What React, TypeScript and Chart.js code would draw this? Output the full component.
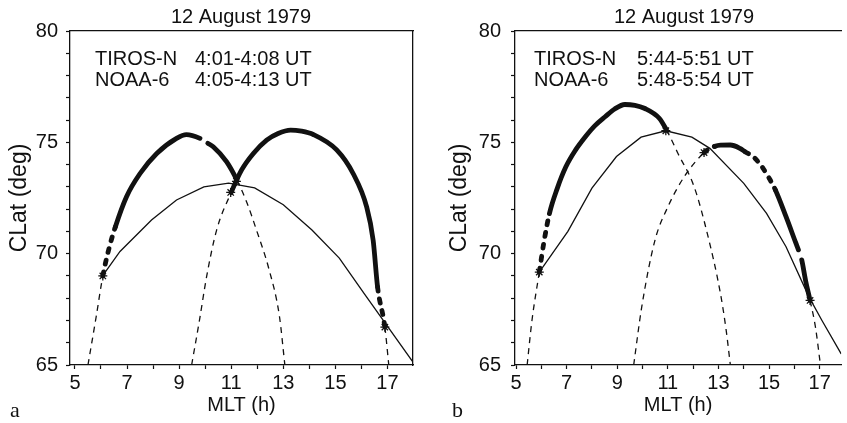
import { useEffect, useRef } from 'react';
import { Chart, registerables } from 'chart.js';

Chart.register(...registerables);

const FONT = '"Liberation Sans", Arial, Helvetica, sans-serif';
const SERIF = '"Liberation Serif", "Times New Roman", serif';
const INK = '#111111';

// ---- texts ----
const titleText = '12 August 1979';
const xTitle = 'MLT (h)';
const yTitle = 'CLat (deg)';
const satNames = ['TIROS-N', 'NOAA-6'];
const timesA = ['4:01-4:08 UT', '4:05-4:13 UT'];
const timesB = ['5:44-5:51 UT', '5:48-5:54 UT'];
const xTickLabels = [5, 7, 9, 11, 13, 15, 17];
const yTickLabels = [65, 70, 75, 80];

// segment styles: d = thin dashed, D = thick dashed, T = thick solid, g = gap
// ---- panel a ----
const boundaryAX = [6.06, 6.73, 7.94, 8.9, 9.95, 10.9, 11.9, 13.0, 14.1, 15.15, 16.1, 16.9, 18.0];
const boundaryAY = [69.0, 70.1, 71.51, 72.41, 73.0, 73.17, 72.95, 72.2, 71.06, 69.8, 68.22, 66.9, 65.1];

const trackA1X = [5.5, 5.82, 6.07, 6.3, 6.55, 6.98, 7.5, 8.14, 8.9, 9.28, 9.8, 10.1, 10.31, 10.82, 11.22, 11.6, 11.97, 12.45, 12.85, 13.06];
const trackA1Y = [65.0, 67.2, 69.0, 70.2, 71.2, 72.56, 73.6, 74.5, 75.18, 75.35, 75.18, 74.96, 74.8, 74.13, 73.3, 72.3, 71.06, 69.3, 67.2, 65.0];
const trackA1Seg = ['d', 'd', 'D', 'D', 'T', 'T', 'T', 'T', 'T', 'T', 'g', 'T', 'T', 'T', 'd', 'd', 'd', 'd', 'd'];

const trackA2X = [9.48, 9.78, 10.06, 10.44, 11.0, 11.4, 11.85, 12.36, 12.8, 13.28, 13.7, 14.15, 15.05, 15.68, 16.2, 16.45, 16.62, 16.9, 17.05];
const trackA2Y = [65.0, 67.0, 69.0, 71.06, 72.75, 73.76, 74.5, 75.1, 75.4, 75.55, 75.5, 75.35, 74.66, 73.6, 72.1, 70.6, 68.5, 66.7, 65.0];
const trackA2Seg = ['d', 'd', 'd', 'd', 'T', 'T', 'T', 'T', 'T', 'T', 'T', 'T', 'T', 'T', 'T', 'T', 'D', 'd'];

const starsAX = [6.07, 10.98, 11.2, 16.9];
const starsAY = [69.0, 72.75, 73.25, 66.7];

// ---- panel b ----
const boundaryBX = [5.92, 7.05, 8.0, 8.97, 9.94, 10.92, 11.95, 12.66, 14.0, 14.9, 15.67, 16.57, 17.09, 17.85];
const boundaryBY = [69.17, 71.0, 72.94, 74.36, 75.23, 75.52, 75.23, 74.73, 73.16, 71.81, 70.31, 68.07, 67.0, 65.5];

const trackB1X = [5.44, 5.63, 5.92, 6.1, 6.32, 6.62, 6.97, 7.35, 7.74, 8.12, 8.52, 8.9, 9.3, 9.7, 10.07, 10.66, 10.95, 11.4, 12.04, 12.56, 13.08, 13.3, 13.47];
const trackB1Y = [65.0, 67.0, 69.17, 70.5, 71.8, 72.9, 73.9, 74.65, 75.25, 75.75, 76.15, 76.5, 76.7, 76.66, 76.53, 76.08, 75.55, 74.5, 73.0, 70.9, 68.2, 66.6, 65.0];
const trackB1Seg = ['d', 'd', 'D', 'D', 'T', 'T', 'T', 'T', 'T', 'T', 'T', 'T', 'T', 'T', 'T', 'T', 'd', 'd', 'd', 'd', 'd', 'd'];

const trackB2X = [9.65, 9.97, 10.49, 11.0, 11.65, 12.43, 12.66, 12.85, 13.08, 13.47, 13.85, 14.05, 14.37, 14.67, 14.89, 15.25, 15.67, 16.06, 16.16, 16.29, 16.45, 16.62, 16.83, 17.03];
const trackB2Y = [65.0, 67.62, 70.6, 72.1, 73.46, 74.54, 74.73, 74.82, 74.87, 74.88, 74.73, 74.58, 74.36, 73.98, 73.6, 72.86, 71.66, 70.47, 70.17, 69.72, 68.75, 67.9, 66.72, 65.0];
const trackB2Seg = ['d', 'd', 'd', 'd', 'd', 'D', 'D', 'T', 'T', 'T', 'T', 'D', 'D', 'D', 'D', 'T', 'T', 'T', 'g', 'T', 'T', 'd', 'd'];

const starsBX = [5.92, 10.92, 12.43, 16.62];
const starsBY = [69.17, 75.52, 74.54, 67.9];

const SEG_WIDTH: Record<string, number> = { d: 1.3, D: 4.8, T: 4.8, g: 1 };
const SEG_DASH: Record<string, number[]> = { d: [6, 5], D: [4, 8], T: [], g: [] };

const pts = (xs: number[], ys: number[]) => xs.map((x, i) => ({ x, y: ys[i] }));

function trackDataset(xs: number[], ys: number[], segs: string[]) {
  return {
    data: pts(xs, ys),
    borderColor: INK,
    borderWidth: 1.3,
    pointRadius: 0,
    cubicInterpolationMode: 'monotone',
    segment: {
      borderWidth: (c: any) => SEG_WIDTH[segs[c.p0DataIndex]],
      borderDash: (c: any) => SEG_DASH[segs[c.p0DataIndex]],
      borderColor: (c: any) => (segs[c.p0DataIndex] === 'g' ? 'rgba(0,0,0,0)' : INK),
      borderCapStyle: (c: any) => (segs[c.p0DataIndex] === 'd' ? 'butt' : 'round'),
    },
  };
}

function boundaryDataset(xs: number[], ys: number[]) {
  return {
    data: pts(xs, ys),
    borderColor: INK,
    borderWidth: 1.3,
    pointRadius: 0,
    tension: 0,
  };
}

function starDataset(xs: number[], ys: number[]) {
  return {
    data: pts(xs, ys),
    showLine: false,
    pointStyle: 'star',
    pointRadius: 4.5,
    pointBorderWidth: 1.3,
    pointBorderColor: INK,
    pointBackgroundColor: INK,
  };
}

const panelTextPlugin = {
  id: 'panelText',
  afterDraw(chart: any, _args: any, o: any) {
    const ctx = chart.ctx;
    ctx.save();
    ctx.fillStyle = INK;
    ctx.font = `20px ${FONT}`;
    ctx.textBaseline = 'alphabetic';
    ctx.textAlign = 'center';
    ctx.fillText(titleText, o.titleX, 23);
    ctx.textAlign = 'left';
    satNames.forEach((n, i) => {
      ctx.fillText(n, o.nameX, 65 + i * 21);
      ctx.fillText(o.times[i], o.timeX, 65 + i * 21);
    });
    ctx.font = `22px ${SERIF}`;
    ctx.fillText(o.letter, o.letterX, 417);
    ctx.restore();
  },
};

interface PanelSpec {
  xMin: number;
  xMax: number;
  leftW: number;
  rightW: number;
  yTitlePad: number;
  yTickPad: number;
  datasets: any[];
  text: any;
}

function makeConfig(p: PanelSpec): any {
  const tickFont = { family: FONT, size: 20, lineHeight: 1.2 };
  const scales: any = {
    x: {
      type: 'linear',
      position: 'bottom',
      min: p.xMin,
      max: p.xMax,
      afterFit: (s: any) => { s.height = 58; },
      border: { display: true, color: INK, width: 1.3 },
      grid: { display: true, drawOnChartArea: false, drawTicks: true, tickLength: 4, tickColor: INK, tickWidth: 1.2 },
      ticks: {
        stepSize: 1,
        autoSkip: false,
        maxRotation: 0,
        minRotation: 0,
        includeBounds: false,
        padding: 2,
        color: INK,
        font: tickFont,
        callback: (v: number) => (xTickLabels.includes(v) ? String(v) : ''),
      },
      title: { display: true, text: xTitle, color: INK, font: { family: FONT, size: 20, lineHeight: 1.2 }, padding: { top: 0, bottom: 6 } },
    },
    y: {
      type: 'linear',
      position: 'left',
      min: 65,
      max: 80,
      afterFit: (s: any) => { s.width = p.leftW; },
      border: { display: true, color: INK, width: 1.3 },
      grid: { display: true, drawOnChartArea: false, drawTicks: true, tickLength: 4, tickColor: INK, tickWidth: 1.2 },
      ticks: {
        stepSize: 1,
        autoSkip: false,
        includeBounds: false,
        padding: p.yTickPad,
        color: INK,
        font: tickFont,
        callback: (v: number) => (yTickLabels.includes(v) ? String(v) : ''),
      },
      title: { display: true, text: yTitle, color: INK, font: { family: FONT, size: 23, lineHeight: 1.2 }, padding: { top: p.yTitlePad, bottom: 0 } },
    },
    xTop: {
      type: 'linear',
      position: 'top',
      min: p.xMin,
      max: p.xMax,
      afterFit: (s: any) => { s.height = 31; },
      border: { display: true, color: INK, width: 1.3 },
      grid: { display: false },
      ticks: { display: false },
    },
  };
  if (p.rightW > 0) {
    scales.yRight = {
      type: 'linear',
      position: 'right',
      min: 65,
      max: 80,
      afterFit: (s: any) => { s.width = p.rightW; },
      border: { display: true, color: INK, width: 1.3 },
      grid: { display: false },
      ticks: { display: false },
    };
  }
  return {
    type: 'line',
    data: { datasets: p.datasets },
    plugins: [panelTextPlugin],
    options: {
      animation: false,
      responsive: false,
      events: [],
      layout: { padding: 0 },
      scales,
      plugins: {
        legend: { display: false },
        tooltip: { enabled: false },
        panelText: p.text,
      },
    },
  };
}

const panelA: PanelSpec = {
  xMin: 4.81,
  xMax: 17.98,
  leftW: 70,
  rightW: 11,
  yTitlePad: 6,
  yTickPad: 8,
  datasets: [
    starDataset(starsAX, starsAY),
    trackDataset(trackA1X, trackA1Y, trackA1Seg),
    trackDataset(trackA2X, trackA2Y, trackA2Seg),
    boundaryDataset(boundaryAX, boundaryAY),
  ],
  text: { titleX: 241, nameX: 95, timeX: 195, times: timesA, letter: 'a', letterX: 10 },
};

const panelB: PanelSpec = {
  xMin: 4.96,
  xMax: 17.85,
  leftW: 91,
  rightW: 0,
  yTitlePad: 22,
  yTickPad: 10,
  datasets: [
    starDataset(starsBX, starsBY),
    trackDataset(trackB1X, trackB1Y, trackB1Seg),
    trackDataset(trackB2X, trackB2Y, trackB2Seg),
    boundaryDataset(boundaryBX, boundaryBY),
  ],
  text: { titleX: 260, nameX: 110, timeX: 213, times: timesB, letter: 'b', letterX: 28 },
};

function Panel({ spec, left, width }: { spec: PanelSpec; left: number; width: number }) {
  const ref = useRef<HTMLCanvasElement | null>(null);
  useEffect(() => {
    if (!ref.current) return;
    const chart = new Chart(ref.current, makeConfig(spec));
    return () => chart.destroy();
  }, [spec]);
  return (
    <canvas
      ref={ref}
      width={width}
      height={423}
      style={{ position: 'absolute', left, top: 0, width, height: 423 }}
    />
  );
}

export default function App() {
  return (
    <div style={{ position: 'absolute', left: 0, top: 0, width: 847, height: 423, overflow: 'hidden', background: '#fff' }}>
      <Panel spec={panelA} left={0} width={424} />
      <Panel spec={panelB} left={424} width={423} />
    </div>
  );
}
